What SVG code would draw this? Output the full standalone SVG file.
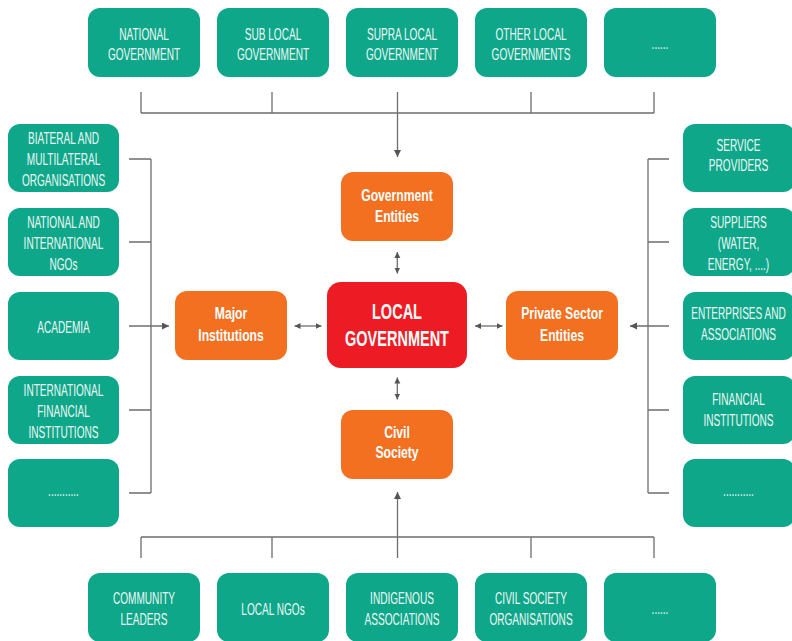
<svg xmlns="http://www.w3.org/2000/svg" width="792" height="641" viewBox="0 0 792 641">
<defs>
<style>
.teal{fill:#0EA78A}
.orange{fill:#F37021}
.red{fill:#ED1C24}
.t{font-family:"Liberation Sans",Arial,sans-serif;font-size:16px;fill:#EEF8F4;text-anchor:middle}
.b{font-weight:bold;fill:#FFFFFF}
.big{font-size:22px}
.ln{stroke:#6E6E6E;stroke-width:1.3;fill:none}
.arr{marker-end:url(#ah)}
.dbl{marker-start:url(#sh);marker-end:url(#sh)}
</style>
<marker id="ah" markerUnits="userSpaceOnUse" markerWidth="8" markerHeight="8" refX="7" refY="3.5" orient="auto"><path d="M0,0 L7,3.5 L0,7 Z" fill="#555"/></marker>
<marker id="sh" markerUnits="userSpaceOnUse" markerWidth="7" markerHeight="7" refX="6" refY="3" orient="auto-start-reverse"><path d="M0,0 L6,3 L0,6 Z" fill="#555"/></marker>
</defs>
<rect width="792" height="641" fill="#FFFFFF"/>

<g id="connectors">
<path class="ln" d="M141,92 V113 M272,92 V113 M531,92 V113 M654,92 V113 M141,113 H654"/>
<path class="ln arr" d="M397.5,92 V157"/>
<path class="ln" d="M141,558 V537 M272,558 V537 M531,558 V537 M654,558 V537 M141,537 H654"/>
<path class="ln arr" d="M397.5,558 V492"/>
<path class="ln" d="M129,159 H151 M129,242 H151 M129,410 H151 M129,493 H151 M151,159 V493"/>
<path class="ln arr" d="M129,326 H169"/>
<path class="ln" d="M669,159 H648 M669,242 H648 M669,410 H648 M669,493 H648 M648,159 V493"/>
<path class="ln arr" d="M669,326 H630"/>
<path class="ln dbl" d="M397.3,252 V273.5"/>
<path class="ln dbl" d="M397.3,377.5 V399.5"/>
<path class="ln dbl" d="M294.5,326 H321.5"/>
<path class="ln dbl" d="M475,326 H502.5"/>
</g>

<g id="national-government"><rect class="teal" x="88" y="8" width="112" height="69" rx="12"/><text class="t" transform="translate(144,0) scale(0.63,1)"><tspan x="0" y="39.7">NATIONAL</tspan><tspan x="0" y="59.7">GOVERNMENT</tspan></text></g>
<g id="sub-local-government"><rect class="teal" x="217" y="8" width="112" height="69" rx="12"/><text class="t" transform="translate(273,0) scale(0.63,1)"><tspan x="0" y="39.7">SUB LOCAL</tspan><tspan x="0" y="59.7">GOVERNMENT</tspan></text></g>
<g id="supra-local-government"><rect class="teal" x="346" y="8" width="112" height="69" rx="12"/><text class="t" transform="translate(402,0) scale(0.63,1)"><tspan x="0" y="39.7">SUPRA LOCAL</tspan><tspan x="0" y="59.7">GOVERNMENT</tspan></text></g>
<g id="other-local-governments"><rect class="teal" x="475" y="8" width="112" height="69" rx="12"/><text class="t" transform="translate(531,0) scale(0.63,1)"><tspan x="0" y="39.7">OTHER LOCAL</tspan><tspan x="0" y="59.7">GOVERNMENTS</tspan></text></g>
<g id="top-more"><rect class="teal" x="604" y="8" width="112" height="69" rx="12"/><text class="t" transform="translate(660,0) scale(0.63,1)"><tspan x="0" y="49">......</tspan></text></g>

<g id="biateral-multilateral"><rect class="teal" x="8" y="124" width="111" height="68" rx="12"/><text class="t" transform="translate(63.5,0) scale(0.63,1)"><tspan x="0" y="144.5">BIATERAL AND</tspan><tspan x="0" y="165.2">MULTILATERAL</tspan><tspan x="0" y="186">ORGANISATIONS</tspan></text></g>
<g id="national-international-ngos"><rect class="teal" x="8" y="208" width="111" height="68" rx="12"/><text class="t" transform="translate(63.5,0) scale(0.63,1)"><tspan x="0" y="228.5">NATIONAL AND</tspan><tspan x="0" y="249.2">INTERNATIONAL</tspan><tspan x="0" y="270">NGOs</tspan></text></g>
<g id="academia"><rect class="teal" x="8" y="292" width="111" height="68" rx="12"/><text class="t" transform="translate(63.5,0) scale(0.63,1)"><tspan x="0" y="333.3">ACADEMIA</tspan></text></g>
<g id="international-financial-institutions"><rect class="teal" x="8" y="376" width="111" height="68" rx="12"/><text class="t" transform="translate(63.5,0) scale(0.63,1)"><tspan x="0" y="396.5">INTERNATIONAL</tspan><tspan x="0" y="417.2">FINANCIAL</tspan><tspan x="0" y="438">INSTITUTIONS</tspan></text></g>
<g id="left-more"><rect class="teal" x="8" y="459" width="111" height="68" rx="12"/><text class="t" transform="translate(63.5,0) scale(0.63,1)"><tspan x="0" y="496">...........</tspan></text></g>

<g id="service-providers"><rect class="teal" x="683" y="124" width="112" height="68" rx="12"/><text class="t" transform="translate(738.5,0) scale(0.63,1)"><tspan x="0" y="151">SERVICE</tspan><tspan x="0" y="171.5">PROVIDERS</tspan></text></g>
<g id="suppliers"><rect class="teal" x="683" y="208" width="112" height="68" rx="12"/><text class="t" transform="translate(738.5,0) scale(0.63,1)"><tspan x="0" y="228.5">SUPPLIERS</tspan><tspan x="0" y="249.5">(WATER,</tspan><tspan x="0" y="270.5">ENERGY, ....)</tspan></text></g>
<g id="enterprises-associations"><rect class="teal" x="683" y="292" width="112" height="68" rx="12"/><text class="t" transform="translate(738.5,0) scale(0.63,1)"><tspan x="0" y="319.5">ENTERPRISES AND</tspan><tspan x="0" y="340.5">ASSOCIATIONS</tspan></text></g>
<g id="financial-institutions"><rect class="teal" x="683" y="376" width="112" height="68" rx="12"/><text class="t" transform="translate(738.5,0) scale(0.63,1)"><tspan x="0" y="405">FINANCIAL</tspan><tspan x="0" y="426">INSTITUTIONS</tspan></text></g>
<g id="right-more"><rect class="teal" x="683" y="459" width="112" height="68" rx="12"/><text class="t" transform="translate(738.5,0) scale(0.63,1)"><tspan x="0" y="496">...........</tspan></text></g>

<g id="government-entities"><rect class="orange" x="341" y="172" width="112" height="69" rx="12"/><text class="t b" transform="translate(397,0) scale(0.76,1)"><tspan x="0" y="200.7">Government</tspan><tspan x="0" y="221.7">Entities</tspan></text></g>
<g id="major-institutions"><rect class="orange" x="175" y="291" width="112" height="69" rx="12"/><text class="t b" transform="translate(231,0) scale(0.76,1)"><tspan x="0" y="319.5">Major</tspan><tspan x="0" y="341">Institutions</tspan></text></g>
<g id="local-government"><rect class="red" x="327" y="282" width="140" height="86" rx="14"/><text class="t b big" transform="translate(397,0) scale(0.66,1)"><tspan x="0" y="319.3">LOCAL</tspan><tspan x="0" y="345.7">GOVERNMENT</tspan></text></g>
<g id="private-sector-entities"><rect class="orange" x="506" y="291" width="112" height="69" rx="12"/><text class="t b" transform="translate(562,0) scale(0.76,1)"><tspan x="0" y="319.5">Private Sector</tspan><tspan x="0" y="341">Entities</tspan></text></g>
<g id="civil-society"><rect class="orange" x="341" y="410" width="112" height="69" rx="12"/><text class="t b" transform="translate(397,0) scale(0.76,1)"><tspan x="0" y="437.7">Civil</tspan><tspan x="0" y="458">Society</tspan></text></g>

<g id="community-leaders"><rect class="teal" x="88" y="573" width="112" height="69" rx="12"/><text class="t" transform="translate(144,0) scale(0.63,1)"><tspan x="0" y="604">COMMUNITY</tspan><tspan x="0" y="625">LEADERS</tspan></text></g>
<g id="local-ngos"><rect class="teal" x="217" y="573" width="112" height="69" rx="12"/><text class="t" transform="translate(273,0) scale(0.63,1)"><tspan x="0" y="614.7">LOCAL NGOs</tspan></text></g>
<g id="indigenous-associations"><rect class="teal" x="346" y="573" width="112" height="69" rx="12"/><text class="t" transform="translate(402,0) scale(0.63,1)"><tspan x="0" y="604">INDIGENOUS</tspan><tspan x="0" y="625">ASSOCIATIONS</tspan></text></g>
<g id="civil-society-organisations"><rect class="teal" x="475" y="573" width="112" height="69" rx="12"/><text class="t" transform="translate(531,0) scale(0.63,1)"><tspan x="0" y="604">CIVIL SOCIETY</tspan><tspan x="0" y="625">ORGANISATIONS</tspan></text></g>
<g id="bottom-more"><rect class="teal" x="604" y="573" width="112" height="69" rx="12"/><text class="t" transform="translate(660,0) scale(0.63,1)"><tspan x="0" y="614">......</tspan></text></g>
</svg>
